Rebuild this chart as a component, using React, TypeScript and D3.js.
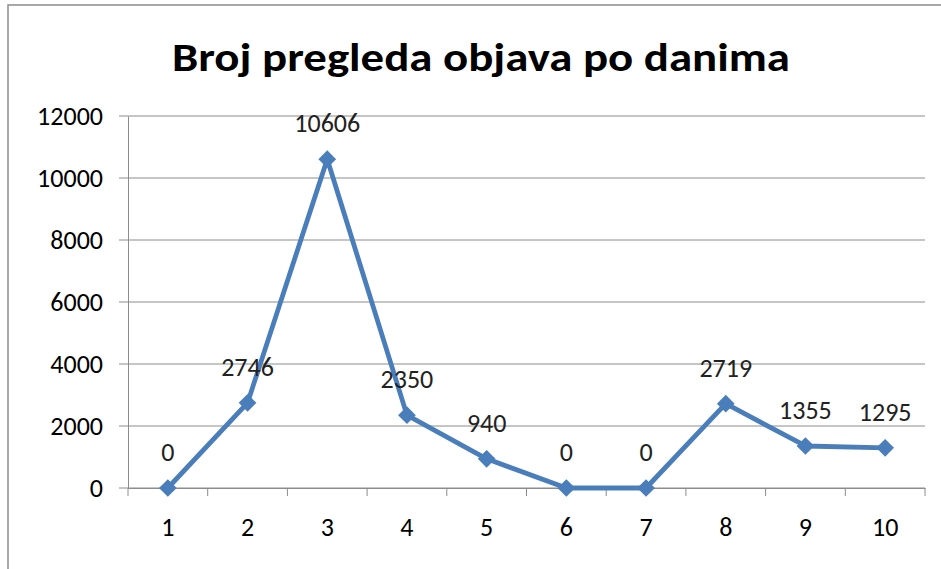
import React, { useEffect, useRef } from 'react'
import * as d3 from 'd3'

const days = ['1', '2', '3', '4', '5', '6', '7', '8', '9', '10']
const views = [0, 2746, 10606, 2350, 940, 0, 0, 2719, 1355, 1295]
const yTicks = [0, 2000, 4000, 6000, 8000, 10000, 12000]
const title = 'Broj pregleda objava po danima'

function App() {
  const svgRef = useRef<SVGSVGElement>(null)

  useEffect(() => {
    const width = 941
    const height = 569
    const left = 128
    const right = 925
    const top = 116
    const bottom = 488
    const font = 'Carlito, Calibri, "Open Sans", "Liberation Sans", sans-serif'

    const svg = d3.select(svgRef.current)
    svg.selectAll('*').remove()
    svg.attr('width', width).attr('height', height)

    svg.append('rect')
      .attr('x', 0).attr('y', 0).attr('width', width).attr('height', height)
      .attr('fill', '#fff')

    // chart border (right and bottom edges are outside the picture)
    svg.append('rect')
      .attr('x', 8).attr('y', 5).attr('width', width + 20).attr('height', height + 20)
      .attr('fill', 'none').attr('stroke', '#8c8c8c').attr('stroke-width', 1.5)

    svg.append('text')
      .attr('x', 481).attr('y', 71)
      .attr('text-anchor', 'middle')
      .attr('font-family', font)
      .attr('font-weight', 'bold')
      .attr('font-size', 40)
      .attr('textLength', 618)
      .attr('lengthAdjust', 'spacingAndGlyphs')
      .attr('fill', '#000')
      .text(title)

    const x = d3.scaleBand().domain(days).range([left, right])
    const y = d3.scaleLinear().domain([0, 12000]).range([bottom, top])

    // gridlines
    svg.append('g')
      .selectAll('line')
      .data(yTicks)
      .join('line')
      .attr('x1', left - 9).attr('x2', right)
      .attr('y1', d => y(d)).attr('y2', d => y(d))
      .attr('stroke', '#8c8c8c').attr('stroke-width', 1)

    // y axis
    const yAxis = svg.append('g')
      .attr('transform', `translate(${left},0)`)
      .call(d3.axisLeft(y).tickValues(yTicks).tickSize(0).tickPadding(25).tickFormat(d3.format('d')))
    yAxis.select('.domain').attr('stroke', '#8c8c8c')
    yAxis.selectAll('text').attr('font-family', font).attr('font-size', 26).attr('fill', '#000')

    // x axis
    const xAxis = svg.append('g')
      .attr('transform', `translate(0,${bottom})`)
      .call(d3.axisBottom(x).tickSize(0).tickPadding(30))
    xAxis.select('.domain').attr('stroke', '#8c8c8c')
    xAxis.selectAll('text').attr('font-family', font).attr('font-size', 26).attr('fill', '#000')
    xAxis.selectAll('line.sep')
      .data(d3.range(days.length + 1))
      .join('line')
      .attr('class', 'sep')
      .attr('x1', i => left + i * x.step()).attr('x2', i => left + i * x.step())
      .attr('y1', 0).attr('y2', 8)
      .attr('stroke', '#8c8c8c')

    const cx = (i: number) => (x(days[i]) as number) + x.bandwidth() / 2

    const line = d3.line<number>()
      .x((d, i) => cx(i))
      .y(d => y(d))

    svg.append('path')
      .datum(views)
      .attr('d', line)
      .attr('fill', 'none')
      .attr('stroke', '#4a7ebb')
      .attr('stroke-width', 4.8)
      .attr('stroke-linejoin', 'round')

    svg.append('g')
      .selectAll('path')
      .data(views)
      .join('path')
      .attr('d', d3.symbol().type(d3.symbolDiamond2).size(200))
      .attr('transform', (d, i) => `translate(${cx(i)},${y(d)})`)
      .attr('fill', '#4a7ebb')

    svg.append('g')
      .selectAll('text')
      .data(views)
      .join('text')
      .attr('x', (d, i) => cx(i))
      .attr('y', d => y(d) - 27)
      .attr('text-anchor', 'middle')
      .attr('font-family', font)
      .attr('font-size', 26)
      .attr('fill', '#222')
      .text(d => String(d))
  }, [])

  return (
    <svg ref={svgRef} style={{ position: 'absolute', left: 0, top: 0, display: 'block' }}></svg>
  )
}

export default App
